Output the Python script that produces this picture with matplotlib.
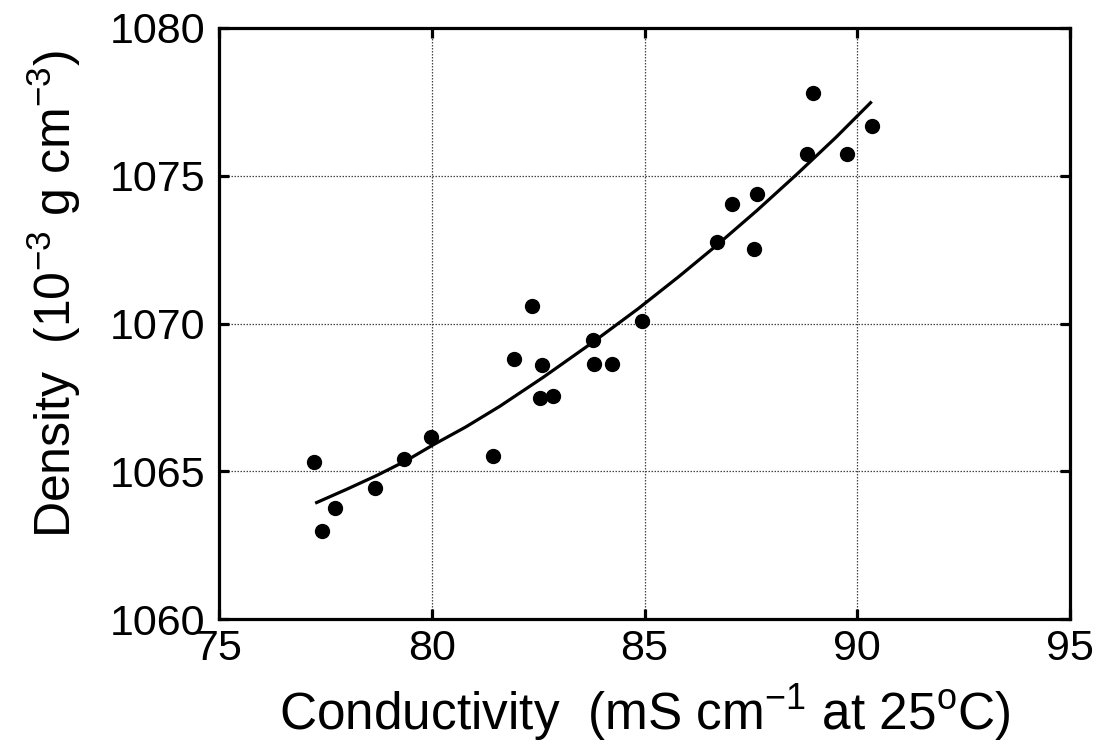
import matplotlib
matplotlib.use("Agg")
import matplotlib.pyplot as plt

plt.rcParams['font.family'] = ['Liberation Sans', 'DejaVu Sans']
plt.rcParams['mathtext.fontset'] = 'custom'
plt.rcParams['mathtext.rm'] = 'Liberation Sans'
plt.rcParams['mathtext.it'] = 'Liberation Sans'
plt.rcParams['mathtext.default'] = 'regular'

# Measured points: conductivity (mS/cm at 25 C) vs density (1e-3 g/cm3)
conductivity = [77.24, 77.42, 77.73, 78.66, 79.35, 79.98, 81.45, 81.93, 82.36,
                82.60, 82.55, 82.85, 83.80, 83.82, 84.24, 84.95, 86.70, 87.06,
                87.57, 87.64, 88.83, 88.95, 89.76, 90.35]
density = [1065.31, 1062.98, 1063.75, 1064.44, 1065.41, 1066.16, 1065.52, 1068.81,
           1070.58, 1068.58, 1067.48, 1067.53, 1069.44, 1068.64, 1068.64, 1070.07,
           1072.75, 1074.03, 1072.52, 1074.38, 1075.73, 1077.79, 1075.73, 1076.67]

# Fitted curve
fit_x = [77.26, 78.00, 78.71, 79.40, 80.04, 80.80, 81.60, 82.62, 83.20, 83.80,
         84.85, 85.80, 86.70, 87.64, 88.58, 89.50, 90.34]
fit_y = [1063.92, 1064.39, 1064.86, 1065.36, 1065.90, 1066.50, 1067.20, 1068.18,
         1068.77, 1069.38, 1070.50, 1071.58, 1072.65, 1073.82, 1075.05, 1076.30,
         1077.51]

x_ticks = [75, 80, 85, 90, 95]
y_ticks = [1060, 1065, 1070, 1075, 1080]

fig = plt.figure(figsize=(11.04, 7.54), dpi=100)
ax = fig.add_axes([0.1984, 0.179, 0.7708, 0.7839])

ax.plot(fit_x, fit_y, color='black', lw=2.3, solid_capstyle='butt',
        solid_joinstyle='round', zorder=3)
ax.plot(conductivity, density, 'o', color='black', markersize=10, zorder=4)

ax.set_xlim(75, 95)
ax.set_ylim(1060, 1080)
ax.set_xticks(x_ticks)
ax.set_yticks(y_ticks)
ax.grid(True, color='#444444', lw=0.9, linestyle=(0, (1.2, 1.2)))
ax.set_axisbelow(True)

for s in ax.spines.values():
    s.set_linewidth(2.3)
ax.tick_params(direction='in', length=7, width=2.3, top=True, right=True,
               labelsize=31, pad=10)
ax.tick_params(axis='x', pad=7)

ax.set_xlabel('Conductivity  (mS cm$^{-1}$ at 25$^{o}$C)', fontsize=37, labelpad=10)
ax.set_ylabel('Density  (10$^{-3}$ g cm$^{-3}$)', fontsize=36)
ax.yaxis.set_label_coords(-0.16, 0.55)

fig.savefig('out.png', dpi=100, facecolor='white')
